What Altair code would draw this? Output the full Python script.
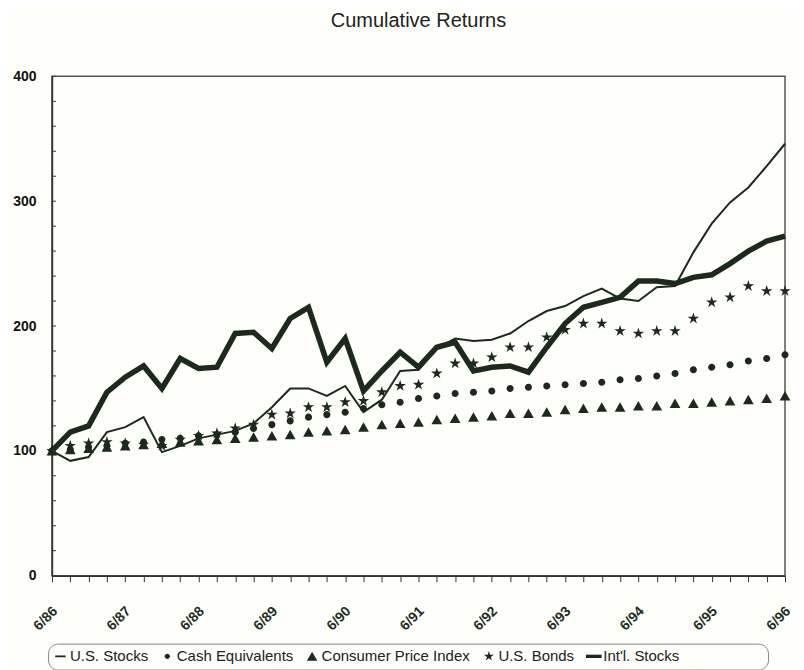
import math
import altair as alt
import pandas as pd

quarters = ["6/86", "9/86", "12/86", "3/87", "6/87", "9/87", "12/87", "3/88", "6/88", "9/88",
            "12/88", "3/89", "6/89", "9/89", "12/89", "3/90", "6/90", "9/90", "12/90", "3/91",
            "6/91", "9/91", "12/91", "3/92", "6/92", "9/92", "12/92", "3/93", "6/93", "9/93",
            "12/93", "3/94", "6/94", "9/94", "12/94", "3/95", "6/95", "9/95", "12/95", "3/96", "6/96"]

series_names = ["U.S. Stocks", "Cash Equivalents", "Consumer Price Index", "U.S. Bonds", "Int'l. Stocks"]

us_stocks = [100, 92, 95, 115, 119, 127, 99, 104, 110, 113, 116, 122, 135, 150, 150, 144, 152, 131, 141, 164,
             165, 182, 190, 188, 189, 194, 204, 212, 216, 224, 230, 222, 220, 231, 232, 259, 282, 299, 311, 328, 346]
cash = [100, 101, 103, 104, 106, 107, 109, 110, 112, 113, 115, 118, 121, 124, 127, 129, 131, 134, 137, 139,
        142, 144, 146, 147, 148, 150, 151, 152, 153, 154, 155, 157, 158, 160, 162, 165, 167, 169, 172, 174, 177]
cpi = [100, 101, 102, 103, 104, 105, 106, 107, 108, 109, 110, 111, 112, 113, 115, 116, 117, 119, 121, 122,
       123, 125, 126, 127, 128, 130, 130, 131, 133, 134, 135, 135, 136, 136, 138, 138, 139, 140, 141, 142, 144]
us_bonds = [100, 104, 106, 107, 106, 105, 104, 109, 112, 114, 118, 121, 129, 130, 135, 135, 139, 140, 147, 152,
            153, 162, 170, 170, 175, 183, 183, 191, 197, 202, 202, 196, 194, 196, 196, 206, 219, 223, 232, 228, 228]
intl_stocks = [100, 115, 120, 147, 159, 168, 150, 174, 166, 167, 194, 195, 182, 206, 215, 171, 190, 148, 164, 179,
               167, 183, 187, 164, 167, 168, 163, 183, 202, 215, 219, 223, 236, 236, 234, 239, 241, 250, 260, 268, 272]

y_ticks = [0, 100, 200, 300, 400]
y_minor = list(range(0, 401, 20))

INK = "#1c2a1c"
FONT = "Liberation Sans"

rows = []
for name, vals in zip(series_names, [us_stocks, cash, cpi, us_bonds, intl_stocks]):
    for q, v in zip(quarters, vals):
        rows.append({"quarter": q, "series": name, "value": v})
df = pd.DataFrame(rows)
minor_df = pd.DataFrame({"value": y_minor})

# symbol paths (unit box)
pts = []
for k in range(10):
    r = 1.0 if k % 2 == 0 else 0.38
    a = -math.pi / 2 + k * math.pi / 5
    pts.append(f"{r * math.cos(a):.3f},{r * math.sin(a):.3f}")
star = "M" + "L".join(pts) + "Z"
thin_bar = "M-1,-0.17H1V0.17H-1Z"
dot = "M0.5,0A0.5,0.5,0,1,1,-0.5,0A0.5,0.5,0,1,1,0.5,0Z"
tri = "M0,-0.9L1,0.85L-1,0.85Z"
thick_bar = "M-1.5,-0.32H1.5V0.32H-1.5Z"

x_enc = alt.X("quarter:O", sort=quarters,
              scale=alt.Scale(type="point", padding=0),
              axis=alt.Axis(title=None,
                            labelExpr="substring(datum.value, 0, 2) == '6/' ? datum.value : ''",
                            labelAngle=315, labelAlign="right", labelBaseline="middle",
                            labelPadding=27, labelOffset=3, tickSize=6, tickColor="#333",
                            labelFont=FONT, labelFontSize=14, labelFontWeight="bold",
                            labelColor="#1e2e1e", domainColor="#333", domainWidth=1.5,
                            grid=False))
y_scale = alt.Scale(domain=[0, 400], nice=False)
y_axis = alt.Axis(title=None, values=y_ticks, ticks=False, labelPadding=16,
                  labelFont=FONT, labelFontSize=14, labelFontWeight="bold",
                  labelColor="#111", domainColor="#333", domainWidth=1.5,
                  grid=False, minExtent=44, maxExtent=44)
y_enc = alt.Y("value:Q", scale=y_scale, axis=y_axis)

# widen the legend frame on the right (non-breaking spaces kept by a zero-width char)
pad_spaces = "\u00a0" * 20 + "\u200b"
shape_enc = alt.Shape(
    "series:N",
    scale=alt.Scale(domain=series_names, range=[thin_bar, dot, tri, star, thick_bar]),
    legend=alt.Legend(title=None, orient="none", legendX=-4, legendY=568,
                      direction="horizontal", labelFont=FONT, labelFontSize=15,
                      labelColor="#222", symbolSize=110, symbolFillColor=INK,
                      symbolStrokeColor=INK, symbolStrokeWidth=0,
                      strokeColor="#888", cornerRadius=10, padding=5,
                      columnPadding=11, labelOffset=2, labelLimit=400,
                      labelExpr=f"datum.label == \"Int'l. Stocks\" ? datum.label + '{pad_spaces}' : datum.label"))

base = alt.Chart(df)

thin = base.transform_filter(alt.datum.series == "U.S. Stocks").mark_line(
    color=INK, strokeWidth=2).encode(x=x_enc, y=y_enc)
thick = base.transform_filter(alt.datum.series == "Int'l. Stocks").mark_line(
    color=INK, strokeWidth=5.5, strokeJoin="miter").encode(x=x_enc, y=y_enc)


def point_layer(name, size):
    return base.transform_filter(alt.datum.series == name).mark_point(
        filled=True, color=INK, opacity=1, strokeWidth=0, size=size
    ).encode(x=x_enc, y=y_enc, shape=shape_enc)


cash_pts = point_layer("Cash Equivalents", 200)
cpi_pts = point_layer("Consumer Price Index", 115)
bond_pts = point_layer("U.S. Bonds", 145)

minor = alt.Chart(minor_df).mark_rule(color="#333", strokeWidth=1).encode(
    y=y_enc, x=alt.value(0), x2=alt.value(4))

chart = alt.layer(cash_pts, cpi_pts, bond_pts, thin, thick, minor).properties(
    width=734, height=500,
    title=alt.TitleParams("Cumulative Returns", fontSize=20, font=FONT, fontWeight="normal",
                          color="#222", anchor="middle", offset=38),
    padding={"left": 0, "top": 3, "right": 0, "bottom": 0},
    background="#fefefb",
).configure_view(stroke="#555", strokeWidth=1.5)

chart.save("out.html", embed_options={"renderer": "svg", "actions": False})
